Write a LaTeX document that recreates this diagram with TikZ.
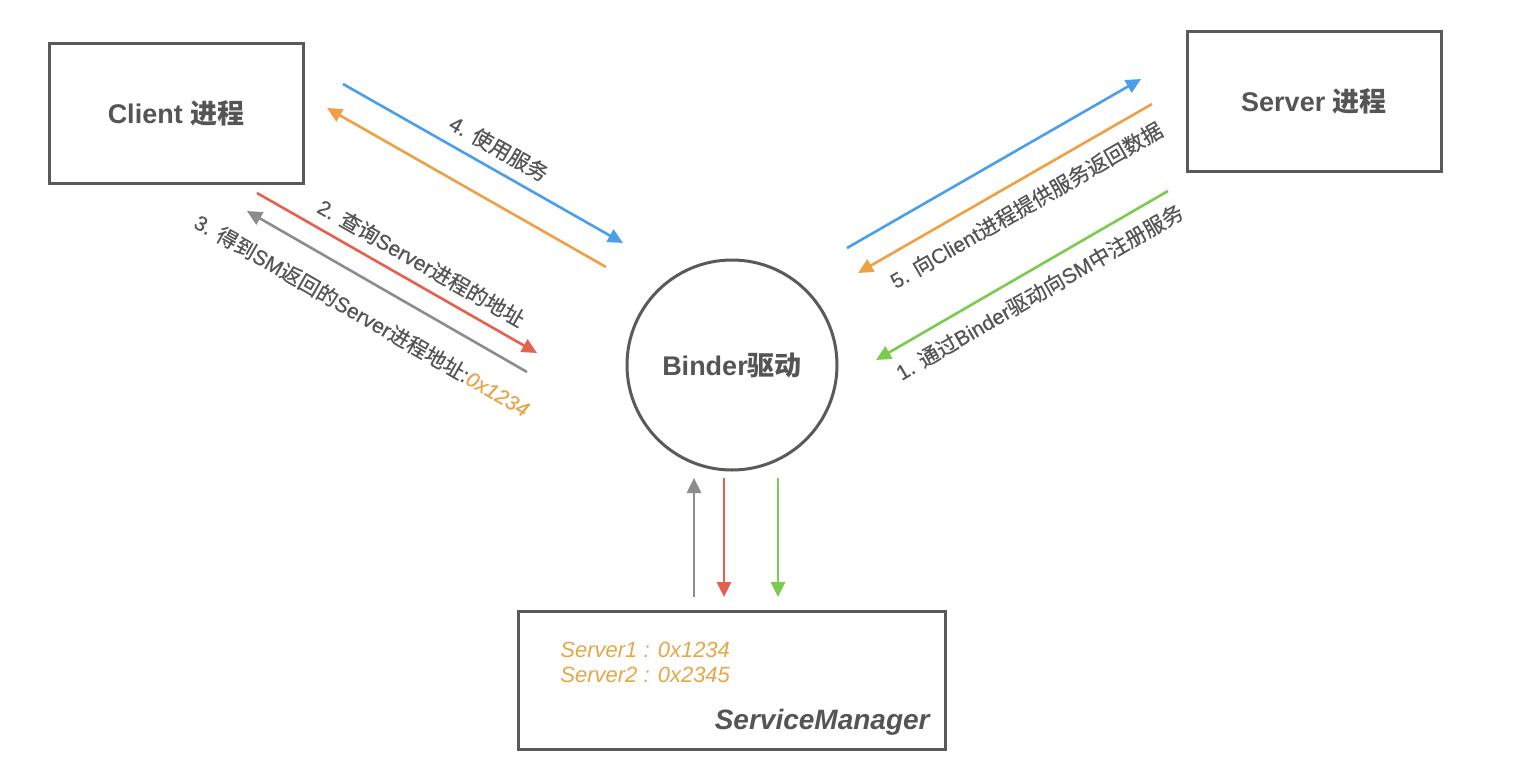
\documentclass[tikz,border=0pt]{standalone}
\usepackage{fontspec}
\setmainfont{Liberation Sans}
\newfontfamily\cjk{Noto Sans CJK SC}
\newfontfamily\labelfont{Liberation Sans}[FakeBold=0.5]
\newfontfamily\cjkmed{Noto Sans CJK SC}[FakeBold=0.5]
\usetikzlibrary{arrows.meta}

\definecolor{linegray}{HTML}{5A5A5A}
\definecolor{txtgray}{HTML}{555555}
\definecolor{arrblue}{HTML}{4A9EEA}
\definecolor{arrorange}{HTML}{EFA045}
\definecolor{arrred}{HTML}{E5604D}
\definecolor{arrgray}{HTML}{8C8C8C}
\definecolor{arrgreen}{HTML}{7BCB4E}
\definecolor{addr}{HTML}{E6A74A}

\begin{document}
\begin{tikzpicture}[x=0.5pt, y=-0.5pt, >={Triangle[length=7.5pt,width=7pt]},
    box/.style={draw=linegray, line width=1.5pt, minimum width=127pt, minimum height=70pt,
        text=txtgray, font=\fontsize{13.5}{16}\selectfont\bfseries},
    flow/.style={->, line width=1.3pt},
    lbl/.style={sloped, inner sep=0pt, text=txtgray, font=\fontsize{10.5}{12}\labelfont\let\cjk\cjkmed},
    entry/.style={anchor=base west, inner sep=0pt, text=addr, font=\fontsize{11}{13}\selectfont\itshape}]
    \fill[white] (0,0) rectangle (1522,782);
    \useasboundingbox (0,0) rectangle (1522,782);

    \node[box] (client) at (176,113) {Client {\cjk 进程}};
    \node[box] (server) at (1314,101) {Server {\cjk 进程}};
    \node[circle, draw=linegray, line width=1.5pt, minimum size=105pt, inner sep=0pt, text=txtgray,
        font=\fontsize{13.5}{16}\selectfont\bfseries] (binder) at (732,365) {Binder{\cjk 驱动}};
    \node[box, minimum width=213.5pt, minimum height=69pt] (sm) at (731.5,680) {};
    \node[anchor=base east, inner sep=0pt, text=txtgray, font=\fontsize{14}{16}\selectfont\bfseries\itshape] (smname) at (930,729) {ServiceManager};
    \node[entry] (entry1) at (560,657) {Server1 : 0x1234};
    \node[entry] (entry2) at (560,682) {Server2 : 0x2345};

    % client side
    \coordinate (useS) at (343,84);   \coordinate (useE) at (623,243);
    \coordinate (retS) at (606,267);  \coordinate (retE) at (327,108);
    \coordinate (askS) at (257,193);  \coordinate (askE) at (537,353);
    \coordinate (gotS) at (527,372);  \coordinate (gotE) at (247,211);
    \draw[flow, arrblue] (useS) -- node[lbl, above=5pt, pos=.52] {4. {\cjk 使用服务}} (useE);
    \draw[flow, arrorange] (retS) -- (retE);
    \draw[flow, arrred] (askS) -- node[lbl, above=5pt, pos=.55] {2. {\cjk 查询}Server{\cjk 进程的地址}} (askE);
    \draw[flow, arrgray] (gotS) -- node[lbl, below=11pt, pos=.53] {3. {\cjk 得到}SM{\cjk 返回的}Server{\cjk 进程地址}:{\color{addr}\itshape 0x1234}} (gotE);

    % server side
    \coordinate (fwdS) at (847,248);  \coordinate (fwdE) at (1141,79);
    \coordinate (ansS) at (1152,104); \coordinate (ansE) at (858,273);
    \coordinate (regS) at (1168,191); \coordinate (regE) at (876,360);
    \draw[flow, arrblue] (fwdS) -- (fwdE);
    \draw[flow, arrorange] (ansS) -- node[lbl, below=7pt, pos=.47] {5. {\cjk 向}Client{\cjk 进程提供服务返回数据}} (ansE);
    \draw[flow, arrgreen] (regS) -- node[lbl, below=6pt, pos=.48] {1. {\cjk 通过}Binder{\cjk 驱动向}SM{\cjk 中注册服务}} (regE);

    % service manager
    \draw[flow, arrgray] (694,597) -- (694,478);
    \draw[flow, arrred] (724,478) -- (724,597);
    \draw[flow, arrgreen] (778,478) -- (778,597);
\end{tikzpicture}
\end{document}
